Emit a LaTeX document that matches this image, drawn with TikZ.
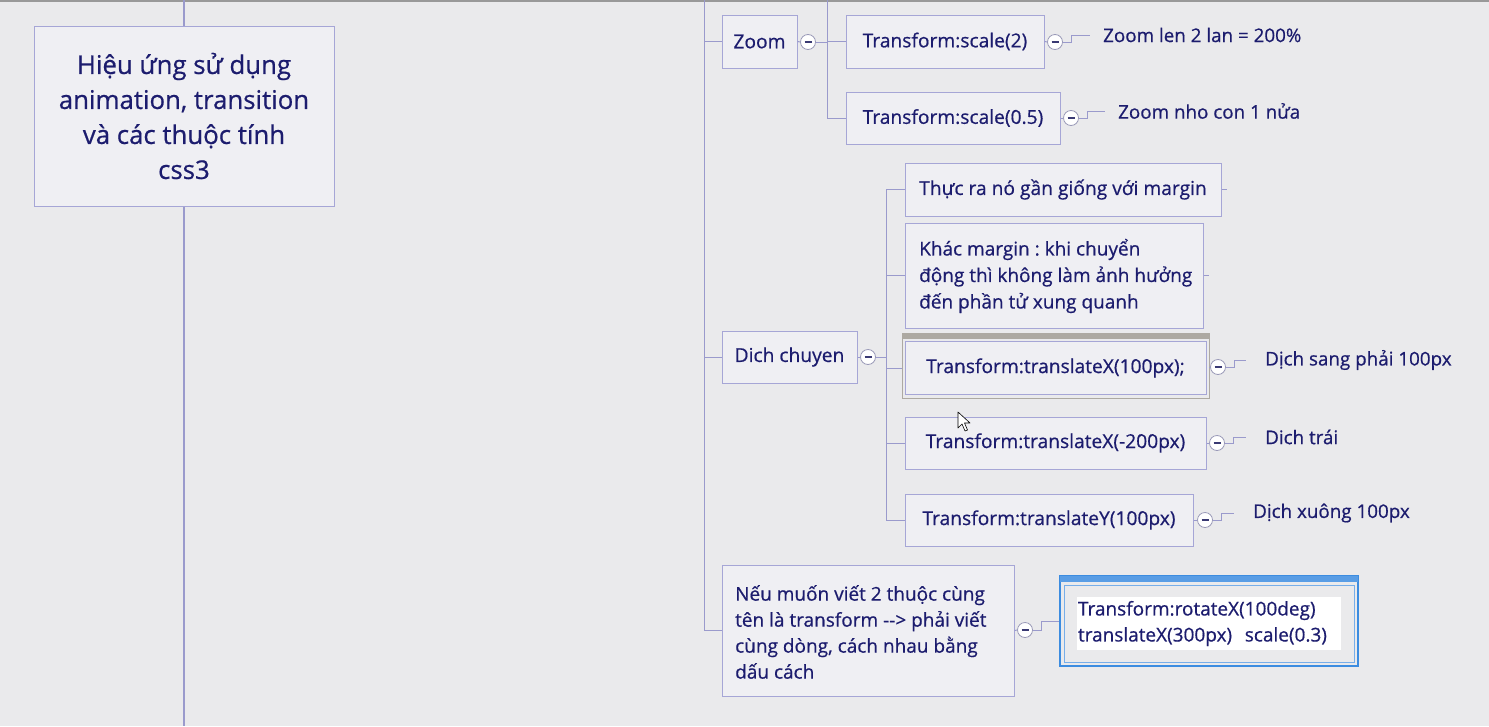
\documentclass[tikz,border=0pt]{standalone}
\usepackage{fontspec}
\setmainfont{Open Sans}[FakeBold=0.6]
\frenchspacing
\definecolor{bgc}{HTML}{EAEAEC}
\definecolor{boxc}{HTML}{EFEFF3}
\definecolor{bordc}{HTML}{A6A6D6}
\definecolor{linec}{HTML}{9A9ACC}
\definecolor{txtc}{HTML}{1C1C6E}
\definecolor{collc}{HTML}{9A9AB8}
\definecolor{selg}{HTML}{ADA9A2}
\definecolor{selb}{HTML}{3C8CE0}
\begin{document}
\frenchspacing
\begin{tikzpicture}[x=1pt,y=-1pt,
  box/.style={draw=bordc, fill=boxc, line width=1pt, text=txtc, inner sep=0pt,
    font=\fontsize{19.2}{26}\selectfont},
  ln/.style={draw=linec, line width=1pt},
  coll/.style={circle, draw=collc, fill=white, minimum size=15pt, inner sep=0pt, line width=0.8pt,
    path picture={\draw[line width=1.6pt, txtc!70!gray]
      ([xshift=-3.5pt]path picture bounding box.center) -- ([xshift=3.5pt]path picture bounding box.center);}},
  lab/.style={text=txtc, anchor=west, inner sep=0pt, font=\fontsize{18.8}{26}\selectfont},
  ml/.style={text=txtc, anchor=west, inner sep=0pt, align=left, font=\fontsize{19}{26.5}\selectfont}]
\useasboundingbox (0,0) rectangle (1489,726);
\fill[bgc] (0,0) rectangle (1489,726);
\fill[gray!80] (0,0) rectangle (1489,2);

% root
\node[box, minimum width=300, minimum height=180, align=center,
  font=\fontsize{25.8}{35}\selectfont] (root) at (184,116)
  {Hiệu ứng sử dụng\\animation, transition\\và các thuộc tính\\css3};

% Zoom group
\node[box, minimum width=75, minimum height=53] (zoom) at (759.5,41.5) {Zoom};
\node[coll] (cz) at (808,42) {};
\node[box, minimum width=198, minimum height=53] (s2) at (945,41.5) {Transform:scale(2)};
\node[box, minimum width=214, minimum height=52] (s5) at (953,118) {Transform:scale(0.5)};
\node[coll] (cs2) at (1055,42) {};
\node[coll] (cs5) at (1071,118) {};
\node[lab] (l1) at (1103,35) {Zoom len 2 lan = 200\%};
\node[lab] (l2) at (1118,111) {Zoom nho con 1 nửa};

% Dich chuyen group
\node[box, minimum width=135, minimum height=52] (dc) at (789.5,357) {Dich chuyen};
\node[coll] (cdc) at (868,357) {};
\node[box, minimum width=316, minimum height=53] (b1) at (1063,189.5) {Thực ra nó gần giống với margin};
\node[box, minimum width=298, minimum height=105] (b2) at (1054,275.5) {};
\node[ml] (b2t) at (919,276)
  {Khác margin : khi chuyển\\động thì không làm ảnh hưởng\\đến phần tử xung quanh};
% selected frame of b3
\draw[selg, fill=bgc, line width=1pt] (902,333) rectangle (1209,398);
\fill[selg] (902,333) rectangle (1209,339);
\node[box, minimum width=301, minimum height=53] (b3) at (1055.5,368) {Transform:translateX(100px);};
\node[box, minimum width=301, minimum height=52] (b4) at (1055.5,443) {Transform:translateX(-200px)};
\node[box, minimum width=288, minimum height=52] (b5) at (1049,520) {Transform:translateY(100px)};
\node[coll] (c3) at (1218,367) {};
\node[coll] (c4) at (1217,443) {};
\node[coll] (c5) at (1205,520) {};
\node[lab] (l3) at (1265,360) {Dịch sang phải 100px};
\node[lab] (l4) at (1265,437) {Dich trái};
\node[lab] (l5) at (1253,513) {Dịch xuông 100px};

% Neu group
\node[box, minimum width=292, minimum height=131] (neu) at (868,630.5) {};
\node[ml, font=\fontsize{19}{26}\selectfont] (neut) at (735,632)
  {Nếu muốn viết 2 thuộc cùng\\tên là transform -{}-{}> phải viết\\cùng dòng, cách nhau bằng\\dấu cách};
\node[coll] (cn) at (1025,630) {};
\node[draw=selb, fill=bgc, line width=1.5pt, minimum width=298, minimum height=90, inner sep=0pt] (rb) at (1209,621) {};
\fill[selb!85!white] (1060,576) rectangle (1358,582);
\draw[selb!70!white, line width=1pt] (1064,585) rectangle (1354,662);
\node[fill=white, text=txtc, inner sep=1pt, text width=262, minimum height=53, align=left,
  font=\fontsize{19}{26}\selectfont] (rbt) at (1209,623.5)
  {Transform:rotateX(100deg)\\translateX(300px)\ \ scale(0.3)};

% connectors
\draw[ln, line width=1.3pt] (184,0) -- (root.north);
\draw[ln, line width=1.3pt] (root.south) -- (184,726);
\draw[ln] (704,0) -- (704,630.5);
\draw[ln] (704,41.5) -- (zoom.west);
\draw[ln] (704,357) -- (dc.west);
\draw[ln] (704,630.5) -- (neu.west);

\draw[ln] (zoom.east) -- (cz.west);
\draw[ln] (cz.east) -- (827,42);
\draw[ln] (827,0) -- (827,118) -- (s5.west);
\draw[ln] (827,41.5) -- (s2.west);
\draw[ln] (s2.east) -- (cs2.west);
\draw[ln] (s5.east) -- (cs5.west);
\draw[ln] (cs2.east) -- ++(9,0) |- ([xshift=-13]l1.west);
\draw[ln] (cs5.east) -- ++(9,0) |- ([xshift=-13]l2.west);

\draw[ln] (dc.east) -- (cdc.west);
\draw[ln] (cdc.east) -- (886,357);
\draw[ln] (886,189.5) -- (886,520);
\draw[ln] (886,189.5) -- (b1.west);
\draw[ln] (886,275.5) -- (b2.west);
\draw[ln] (886,368) -- (902,368);
\draw[ln] (886,443) -- (b4.west);
\draw[ln] (886,520) -- (b5.west);
\draw[ln] (b1.east) -- ++(5,0);
\draw[ln] (b2.east) -- ++(5,0);
\draw[ln] (1209,367) -- (c3.west);
\draw[ln] (b4.east) -- (c4.west);
\draw[ln] (b5.east) -- (c5.west);
\draw[ln] (c3.east) -- ++(9,0) |- ([xshift=-19]l3.west);
\draw[ln] (c4.east) -- ++(9,0) |- ([xshift=-19]l4.west);
\draw[ln] (c5.east) -- ++(9,0) |- ([xshift=-19]l5.west);

\draw[ln] (neu.east) -- (cn.west);
\draw[ln] (cn.east) -- ++(9,0) |- (rb.west);

% mouse cursor
\draw[black, fill=white, line width=0.6pt, line join=round]
  (958,412) -- (958,428) -- (962,424) -- (965,431) -- (967.5,430) -- (964.5,423) -- (970,423) -- cycle;
\end{tikzpicture}
\end{document}
